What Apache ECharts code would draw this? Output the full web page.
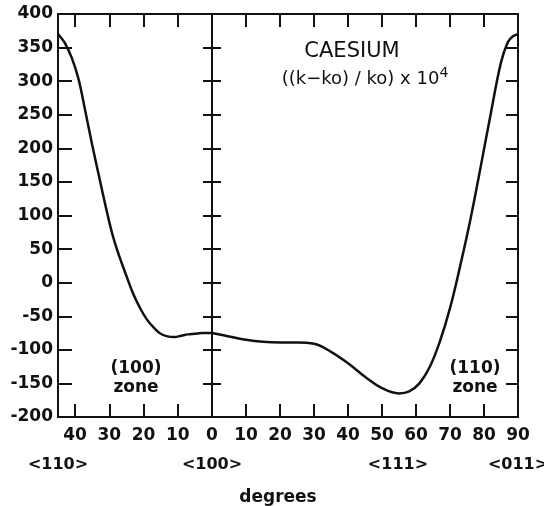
<!DOCTYPE html>
<html>
<head>
<meta charset="utf-8" />
<script src="https://cdn.jsdelivr.net/npm/echarts@6/dist/echarts.min.js"></script>
<style>
  html, body { margin: 0; padding: 0; background: #fff; }
  #chart { width: 544px; height: 506px; }
</style>
</head>
<body>
<div id="chart"></div>
<script>
// (100) zone: degrees from <100> towards <110>
const leftDeg = [0, 3, 5, 7, 9, 11, 13, 15, 17, 19, 21, 23, 25, 27, 29, 31, 33, 35, 37, 39, 41, 43, 44, 45];
const leftVal = [-75, -75, -76, -77, -79, -81, -80, -76, -67, -55, -38, -17, 10, 38, 70, 112, 158, 205, 255, 303, 335, 357, 364, 370];
// (110) zone: degrees from <100> through <111> to <011>
const rightDeg = [0, 5, 10, 15, 20, 25, 30, 35, 40, 45, 50, 55, 58, 61, 64, 67, 70, 73, 76, 79, 82, 85, 87, 88.5, 90];
const rightVal = [-75, -80, -85, -88, -89, -89, -91, -103, -120, -140, -157, -165, -162, -150, -126, -88, -38, 25, 94, 172, 252, 328, 358, 367, 370];

const leftDirections = [[45, '<110>']];
const rightDirections = [[0, '<100>'], [54.7, '<111>'], [90, '<011>']];

const font = 'DejaVu Sans';
const ink = '#111';
const labelSize = 17;

const pair = (xs, ys) => xs.map((x, i) => [x, ys[i]]);

const line = { show: true, onZero: false, lineStyle: { color: ink, width: 2 } };
const noLabel = { show: false };
const tick = len => ({ inside: true, length: len, lineStyle: { color: ink, width: 2 } });
const lbl = extra => Object.assign({ color: ink, fontFamily: font, fontSize: labelSize, fontWeight: 'bold' }, extra);

function dirAxis(grid, inverse, max, dirs) {
  return {
    type: 'value', gridIndex: grid, position: 'bottom', offset: 40,
    min: 0, max: max, inverse: inverse,
    axisLine: { show: false, onZero: false }, axisTick: { show: false }, splitLine: { show: false },
    axisLabel: lbl({
      customValues: dirs.map(d => d[0]),
      formatter: v => { const d = dirs.find(e => e[0] === v); return d ? d[1] : ''; },
      fontSize: 16,
      margin: 0
    })
  };
}

const chart = echarts.init(document.getElementById('chart'));
chart.setOption({
  animation: false,
  backgroundColor: '#fff',
  title: [
    { text: 'CAESIUM', left: 347, top: 36, textAlign: 'center',
      textStyle: { fontFamily: font, fontSize: 21, fontWeight: 'normal', color: ink } },
    { text: '((k\u2212ko) / ko) x 10{s|4}', left: 360, top: 61, textAlign: 'center',
      textStyle: { fontFamily: font, fontSize: 18, fontWeight: 'normal', color: ink,
        rich: { s: { fontSize: 14, verticalAlign: 'top', padding: [0, 0, 12, 0], fontFamily: font, color: ink } } } },
    { text: 'degrees', left: 273, top: 484, textAlign: 'center',
      textStyle: { fontFamily: font, fontSize: labelSize, fontWeight: 'bold', color: ink } },
    { text: '(100)\nzone', left: 131, top: 354, textAlign: 'center',
      textStyle: { fontFamily: font, fontSize: labelSize, fontWeight: 'bold', color: ink, lineHeight: 19 } },
    { text: '(110)\nzone', left: 470, top: 354, textAlign: 'center',
      textStyle: { fontFamily: font, fontSize: labelSize, fontWeight: 'bold', color: ink, lineHeight: 19 } }
  ],
  grid: [
    { left: 58, top: 14, width: 154, bottom: 89, outerBoundsMode: 'none', containLabel: false },
    { left: 212, top: 14, width: 306, bottom: 89, outerBoundsMode: 'none', containLabel: false }
  ],
  xAxis: [
    { type: 'value', gridIndex: 0, position: 'bottom', min: 0, max: 45, interval: 10, inverse: true,
      axisLine: line, splitLine: { show: false }, axisTick: tick(13),
      axisLabel: lbl({ showMinLabel: false, showMaxLabel: false, margin: 10 }) },
    { type: 'value', gridIndex: 0, position: 'top', min: 0, max: 45, interval: 10, inverse: true,
      axisLine: line, splitLine: { show: false }, axisLabel: noLabel, axisTick: tick(13) },
    dirAxis(0, true, 45, leftDirections),
    { type: 'value', gridIndex: 1, position: 'bottom', min: 0, max: 90, interval: 10,
      axisLine: line, splitLine: { show: false }, axisTick: tick(13),
      axisLabel: lbl({ margin: 10 }) },
    { type: 'value', gridIndex: 1, position: 'top', min: 0, max: 90, interval: 10,
      axisLine: line, splitLine: { show: false }, axisLabel: noLabel, axisTick: tick(13) },
    dirAxis(1, false, 90, rightDirections)
  ],
  yAxis: [
    { type: 'value', gridIndex: 0, position: 'left', min: -200, max: 400, interval: 50,
      axisLine: line, splitLine: { show: false }, axisTick: tick(14),
      axisLabel: lbl({ margin: 5 }) },
    { type: 'value', gridIndex: 0, position: 'right', min: -200, max: 400, interval: 50,
      axisLine: line, splitLine: { show: false }, axisLabel: noLabel, axisTick: tick(9) },
    { type: 'value', gridIndex: 1, position: 'left', min: -200, max: 400, interval: 50,
      axisLine: line, splitLine: { show: false }, axisLabel: noLabel, axisTick: tick(9) },
    { type: 'value', gridIndex: 1, position: 'right', min: -200, max: 400, interval: 50,
      axisLine: line, splitLine: { show: false }, axisLabel: noLabel, axisTick: tick(12) }
  ],
  series: [
    { type: 'line', xAxisIndex: 0, yAxisIndex: 0, data: pair(leftDeg, leftVal),
      smooth: 0.4, showSymbol: false, lineStyle: { color: ink, width: 2.5 } },
    { type: 'line', xAxisIndex: 3, yAxisIndex: 2, data: pair(rightDeg, rightVal),
      smooth: 0.4, showSymbol: false, lineStyle: { color: ink, width: 2.5 } }
  ]
});
</script>
</body>
</html>
